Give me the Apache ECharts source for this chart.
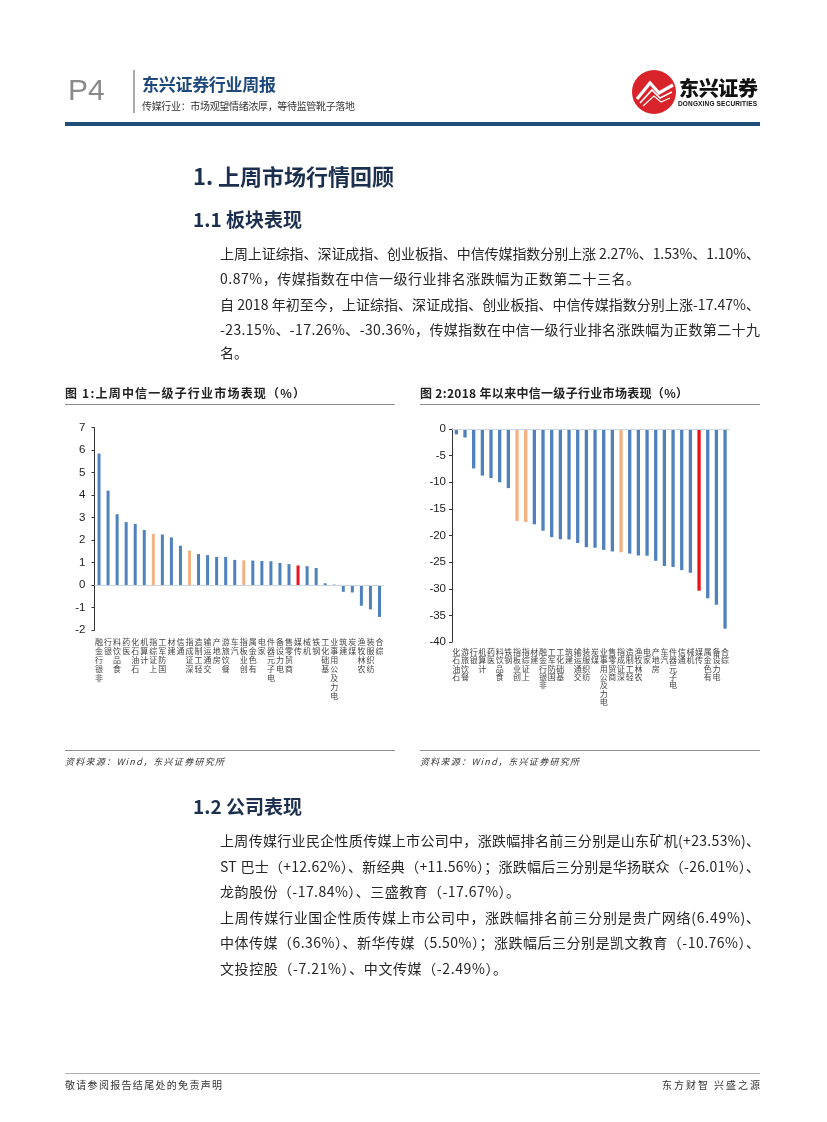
<!DOCTYPE html>
<html><head><meta charset="utf-8">
<script src="https://cdn.jsdelivr.net/npm/echarts/dist/echarts.min.js"></script>
<style>
body{margin:0;width:827px;height:1122px;position:relative;background:#fff;overflow:hidden;font-family:"Noto Sans CJK SC",sans-serif;}
#chart{position:absolute;left:0;top:0;width:827px;height:1122px;}
.t{position:absolute;white-space:nowrap;line-height:1;z-index:2;}
.r{position:absolute;z-index:2;}
</style></head>
<body>
<div id="chart"></div>
<div id="layer"></div>
<svg class="r" style="left:628px;top:66px" width="54" height="54" viewBox="0 0 54 54">
  <circle cx="26" cy="26" r="22" fill="#D9232A"/>
  <path d="M9,33 L22,17 L31,27 L45,19" stroke="#fff" stroke-width="3.2" fill="none"/>
  <path d="M12,37 L24,24 L32,32 L44,26" stroke="#fff" stroke-width="1.6" fill="none"/>
  <path d="M15,40 L26,30 L33,36 L42,32" stroke="#fff" stroke-width="1.2" fill="none"/>
</svg>
<script>
// ---------- data ----------
const cat1 = ['非银行金融','银行','食品饮料','医药','石油石化','计算机','上证综指','国防军工','建材','通信','深证成指','轻工制造','交通运输','房地产','餐饮旅游','汽车','创业板指','有色金属','家电','电子元器件','电力设备','商贸零售','传媒','机械','钢铁','基础化工','电力及公用事业','建筑','煤炭','农林牧渔','纺织服装','综合'];
const val1 = [5.85,4.20,3.15,2.80,2.72,2.45,2.27,2.25,2.12,1.75,1.53,1.38,1.33,1.25,1.25,1.12,1.10,1.09,1.07,1.06,0.98,0.93,0.87,0.84,0.76,0.08,0.02,-0.30,-0.33,-0.92,-1.08,-1.42];
const cat2 = ['石油石化','餐饮旅游','银行','计算机','医药','食品饮料','钢铁','创业板指','上证综指','建材','非银行金融','国防军工','基础化工','建筑','交通运输','纺织服装','煤炭','电力及公用事业','商贸零售','深证成指','轻工制造','农林牧渔','家电','房地产','汽车','电子元器件','通信','机械','传媒','有色金属','电力设备','综合'];
const val2 = [-1.0,-1.6,-7.4,-8.75,-9.2,-10.0,-11.1,-17.26,-17.47,-17.9,-19.1,-20.3,-20.7,-20.75,-21.4,-22.2,-22.3,-22.7,-23.0,-23.15,-23.4,-23.75,-23.8,-24.75,-25.75,-25.9,-26.5,-27.0,-30.36,-31.8,-33.0,-37.5];
const indexNames = ['上证综指','深证成指','创业板指'];
const mediaName = '传媒';

// ---------- page text ----------
const texts = [
 {x:68,y:90,s:30,c:'#8a8a8a',f:'Liberation Sans',w:300,t:'P4'},
 {x:142,y:83,s:17,c:'#1F497D',w:700,t:'东兴证券行业周报',tw:134},
 {x:142,y:106,s:10,c:'#333',t:'传媒行业：市场观望情绪浓厚，等待监管靴子落地',tw:213},
 {x:679,y:88,s:20,c:'#111',w:900,t:'东兴证券',tw:79},
 {x:678,y:104,s:6.5,c:'#111',w:700,f:'Liberation Sans',t:'DONGXING SECURITIES',tw:79},
 {x:193,y:175,s:22,c:'#1C2F4F',w:700,t:'1. 上周市场行情回顾'},
 {x:193,y:218,s:19,c:'#1C2F4F',w:700,t:'1.1 板块表现'},
 {x:220,y:253,s:14,t:'上周上证综指、深证成指、创业板指、中信传媒指数分别上涨 2.27%、1.53%、1.10%、',tw:540},
 {x:220,y:278,s:14,t:'0.87%，传媒指数在中信一级行业排名涨跌幅为正数第二十三名。',tw:420},
 {x:220,y:304,s:14,t:'自 2018 年初至今，上证综指、深证成指、创业板指、中信传媒指数分别上涨-17.47%、',tw:540},
 {x:220,y:329,s:14,t:'-23.15%、-17.26%、-30.36%，传媒指数在中信一级行业排名涨跌幅为正数第二十九',tw:540},
 {x:220,y:352,s:14,t:'名。'},
 {x:65,y:393,s:12,w:700,c:'#222',t:'图 1:上周中信一级子行业市场表现（%）',tw:240},
 {x:420,y:393,s:12,w:700,c:'#222',t:'图 2:2018 年以来中信一级子行业市场表现（%）',tw:268},
 {x:65,y:761,s:9,i:1,c:'#333',t:'资料来源：Wind，东兴证券研究所',tw:159},
 {x:420,y:761,s:9,i:1,c:'#333',t:'资料来源：Wind，东兴证券研究所',tw:159},
 {x:193,y:805,s:19,c:'#1C2F4F',w:700,t:'1.2 公司表现'},
 {x:220,y:840,s:14,t:'上周传媒行业民企性质传媒上市公司中，涨跌幅排名前三分别是山东矿机(+23.53%)、',tw:540},
 {x:220,y:866,s:14,t:'ST 巴士（+12.62%）、新经典（+11.56%）；涨跌幅后三分别是华扬联众（-26.01%）、',tw:540},
 {x:220,y:891,s:14,t:'龙韵股份（-17.84%）、三盛教育（-17.67%）。',tw:300},
 {x:220,y:917,s:14,t:'上周传媒行业国企性质传媒上市公司中，涨跌幅排名前三分别是贵广网络(6.49%)、',tw:540},
 {x:220,y:942,s:14,t:'中体传媒（6.36%）、新华传媒（5.50%）；涨跌幅后三分别是凯文教育（-10.76%）、',tw:540},
 {x:220,y:968,s:14,t:'文投控股（-7.21%）、中文传媒（-2.49%）。',tw:287},
 {x:65,y:1085,s:10,c:'#333',t:'敬请参阅报告结尾处的免责声明',tw:157},
 {x:760,y:1085,s:10,c:'#333',t:'东方财智 兴盛之源',tw:98,right:1}
];
const rules = [
 [133,70,2,43,'#aaa'],
 [65,122,695,4,'#1F4E79'],
 [65,404,330,1,'#8c8c8c'],
 [420,404,340,1,'#8c8c8c'],
 [65,750,330,1,'#8c8c8c'],
 [420,750,340,1,'#8c8c8c'],
 [65,1073,695,1,'#b0b0b0']
];
const layer = document.getElementById('layer');
rules.forEach(r=>{
  const d=document.createElement('div');d.className='r';
  d.style.cssText+=`left:${r[0]}px;top:${r[1]}px;width:${r[2]}px;height:${r[3]}px;background:${r[4]};`;
  layer.appendChild(d);
});
const els=[];
texts.forEach(o=>{
  const d=document.createElement('div');d.className='t';
  d.textContent=o.t;
  d.style.fontSize=o.s+'px';
  d.style.color=o.c||'#262626';
  d.style.fontWeight=o.w||400;
  if(o.f) d.style.fontFamily='"'+o.f+'","Noto Sans CJK SC",sans-serif';
  if(o.i) d.style.fontStyle='italic';
  d.style.top=(o.y-o.s/2)+'px';
  d.style.left=(o.right?o.x-(o.tw||0):o.x)+'px';
  layer.appendChild(d);els.push([d,o]);
});
function fit(){
  els.forEach(([d,o])=>{
    if(!o.tw) return;
    d.style.letterSpacing='0px';
    const w=d.getBoundingClientRect().width;
    const n=[...o.t].length;
    if(n>1){ d.style.letterSpacing=((o.tw-w)/(n-1))+'px'; }
  });
}
fit();
if(document.fonts&&document.fonts.ready) document.fonts.ready.then(fit);

// ---------- chart ----------
const COL_BLUE='#4F81BD', COL_ORANGE='#F4B183', COL_RED='#E8141A';
function colorFor(name){ return name===mediaName?COL_RED:(indexNames.includes(name)?COL_ORANGE:COL_BLUE); }
function items(cats,vals){ return vals.map((v,i)=>({value:v,itemStyle:{color:colorFor(cats[i])}})); }
function stacked(v){ return [...v].reverse().join('\n'); }
function xAx(gi,cats,margin,lh){return {type:'category',gridIndex:gi,data:cats,axisLine:{show:false,onZero:false},axisTick:{show:false},
  axisLabel:{interval:0,fontSize:8,lineHeight:lh,color:'#444',margin:margin,fontFamily:'Noto Sans CJK SC',formatter:stacked}};}
function yAx(gi,min,max,itv,margin){return {type:'value',gridIndex:gi,min:min,max:max,interval:itv,
  axisLine:{show:true,lineStyle:{color:'#333',width:1}},axisTick:{show:true,length:3,lineStyle:{color:'#333'}},
  splitLine:{show:false},axisLabel:{fontSize:11.5,color:'#222',margin:margin,fontFamily:'Liberation Sans'}};}
const zeroLine={silent:true,symbol:'none',label:{show:false},lineStyle:{color:'#C9D5E5',width:1,type:'solid'},data:[{yAxis:0}]};
const chart=echarts.init(document.getElementById('chart'));
chart.setOption({
  animation:false,
  grid:[{left:94.5,top:427.7,width:289.5,height:202.3},{left:452,top:429,width:277.4,height:213}],
  xAxis:[xAx(0,cat1,7,9),xAx(1,cat2,6,8.3)],
  yAxis:[yAx(0,-2,7,1,9),yAx(1,-40,0,5,6)],
  series:[
    {type:'bar',xAxisIndex:0,yAxisIndex:0,barWidth:3,data:items(cat1,val1),markLine:zeroLine},
    {type:'bar',xAxisIndex:1,yAxisIndex:1,barWidth:3.3,data:items(cat2,val2),markLine:zeroLine}
  ]
});
</script>
</body></html>
